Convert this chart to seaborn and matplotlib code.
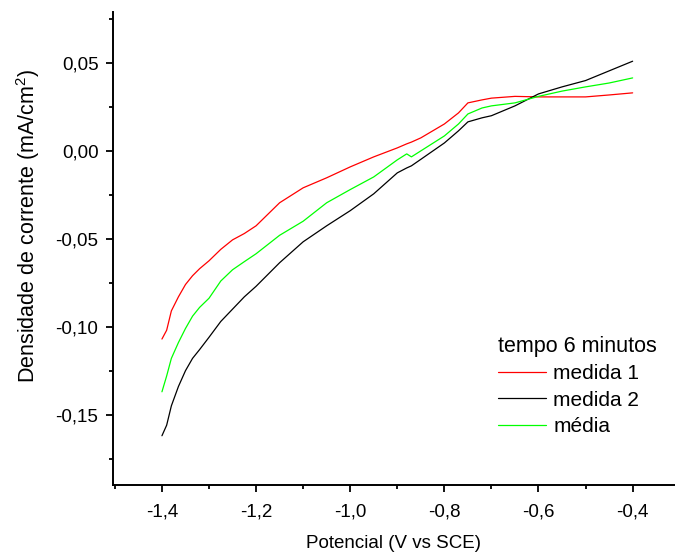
import numpy as np
import pandas as pd
import matplotlib
matplotlib.use("Agg")
import matplotlib.pyplot as plt
from matplotlib.ticker import MultipleLocator, FuncFormatter
import seaborn as sns

# potencial (V vs SCE)
potencial = [-1.40, -1.39, -1.38, -1.365, -1.35, -1.335, -1.32, -1.30, -1.275, -1.25,
             -1.225, -1.20, -1.15, -1.10, -1.05, -1.00, -0.95, -0.90, -0.88, -0.87,
             -0.85, -0.80, -0.77, -0.75, -0.72, -0.70, -0.65, -0.60, -0.55, -0.50,
             -0.45, -0.40]

# densidade de corrente (mA/cm2)
medida_1 = [-0.107, -0.102, -0.091, -0.083, -0.076, -0.071, -0.067, -0.0625, -0.056, -0.0506,
            -0.047, -0.0426, -0.0295, -0.021, -0.0153, -0.0091, -0.0034, 0.0017, 0.0040, 0.0050,
            0.0074, 0.0153, 0.0216, 0.0273, 0.029, 0.030, 0.031, 0.0307, 0.0307, 0.0307,
            0.0318, 0.033]
medida_2 = [-0.162, -0.156, -0.145, -0.134, -0.125, -0.118, -0.113, -0.106, -0.097, -0.090,
            -0.083, -0.077, -0.0636, -0.0517, -0.0426, -0.034, -0.0244, -0.0125, -0.0097, -0.0085,
            -0.0048, 0.0045, 0.0114, 0.0165, 0.0188, 0.020, 0.0256, 0.0324, 0.0364, 0.040,
            0.0455, 0.051]
media = [-0.137, -0.128, -0.118, -0.109, -0.101, -0.094, -0.089, -0.0838, -0.074, -0.0676,
         -0.063, -0.0585, -0.048, -0.040, -0.0295, -0.022, -0.0148, -0.0051, -0.0017, -0.0034,
         0.000, 0.0085, 0.0153, 0.021, 0.0244, 0.0256, 0.0273, 0.031, 0.034, 0.0364,
         0.0386, 0.0415]

series_names = ["medida 1", "medida 2", "média"]
colors = ["#ff0000", "#000000", "#00ff00"]

df = pd.concat([
    pd.DataFrame({"pot": potencial, "dens": vals, "serie": name})
    for name, vals in zip(series_names, [medida_1, medida_2, media])
])

sns.set_style("ticks", {"axes.edgecolor": "black", "text.color": "black",
                        "axes.labelcolor": "black", "xtick.color": "black",
                        "ytick.color": "black"})
plt.rcParams["font.family"] = ["Liberation Sans", "DejaVu Sans"]
plt.rcParams["mathtext.fontset"] = "custom"
plt.rcParams["mathtext.rm"] = "Liberation Sans"
plt.rcParams["mathtext.it"] = "Liberation Sans"

fig = plt.figure(figsize=(6.75, 5.57), dpi=100)
ax = fig.add_axes([0.1674, 0.1293, 0.8326, 0.8492])

sns.lineplot(data=df, x="pot", y="dens", hue="serie", palette=dict(zip(series_names, colors)),
             sort=False, estimator=None, linewidth=0.9, ax=ax)

ax.set_xlim(-1.504, -0.31)
ax.set_ylim(-0.19, 0.079)

ax.xaxis.set_major_locator(MultipleLocator(0.2))
ax.xaxis.set_minor_locator(MultipleLocator(0.1))
ax.yaxis.set_major_locator(MultipleLocator(0.05))
ax.yaxis.set_minor_locator(MultipleLocator(0.025))

ax.xaxis.set_major_formatter(FuncFormatter(lambda v, p: f"{v:.1f}".replace(".", ",").replace("-0,0", "0,0")))
ax.yaxis.set_major_formatter(FuncFormatter(lambda v, p: f"{v:.2f}".replace(".", ",").replace("-0,00", "0,00")))

ax.tick_params(which="major", direction="out", length=5, width=1.3, labelsize=13.5, pad=5.5)
ax.tick_params(axis="x", which="major", pad=8)
ax.tick_params(which="minor", direction="out", length=3, width=1.3)

for s in ["top", "right"]:
    ax.spines[s].set_visible(False)
for s in ["left", "bottom"]:
    ax.spines[s].set_linewidth(1.4)

ax.set_xlabel("Potencial (V vs SCE)", fontsize=13.5, labelpad=11)
ax.set_ylabel("Densidade de corrente (mA/cm$^2$)", fontsize=15.5)
ax.yaxis.set_label_coords(-0.126, 0.548)

handles, labels = ax.get_legend_handles_labels()
leg = ax.legend(handles, labels, title="tempo 6 minutos", loc="upper left",
                bbox_to_anchor=(498 / 675, 1 - 336 / 557), bbox_transform=fig.transFigure,
                frameon=False, fontsize=15, title_fontsize=15.5, handlelength=2.3,
                handletextpad=0.35, labelspacing=0.35, borderpad=0, borderaxespad=0)
leg._legend_box.align = "left"

fig.savefig("out.png", dpi=100)
